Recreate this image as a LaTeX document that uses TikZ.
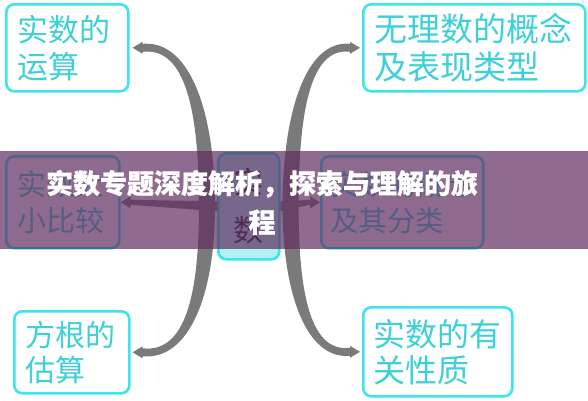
\documentclass[tikz,border=0pt]{standalone}
\usepackage{fontspec}
\setmainfont{Noto Sans CJK SC}[BoldFeatures={FakeBold=0.8}]
\usepackage{xcolor}
\usetikzlibrary{calc}
\definecolor{topicborder}{RGB}{56,230,236}
\definecolor{topictext}{RGB}{62,208,216}
\definecolor{hubfill}{RGB}{178,242,246}
\definecolor{hubtext}{RGB}{40,40,48}
\definecolor{linkgrey}{RGB}{122,122,122}
\definecolor{bandpurple}{RGB}{95,45,95}
% #1 arrow point, #2 bend point beside the hub, #3 x sign, #4 y sign
\newcommand\bigarc[4]{%
  \fill[linkgrey] let \p1=(#1), \p2=(#2), \p3=({\x1+10*(#3)},\y1) in
    ({\x3},{\y3+4*(#4)}) .. controls ({\x3+0.7*(\x2-\x3)+2*(#3)},{\y3+8*(#4)})
      and ({\x2+8*(#3)},{\y2+0.6*(\y3-\y2)}) .. ({\x2+8*(#3)},{\y2})
    -- ({\x2-8*(#3)},{\y2}) .. controls ({\x2-8*(#3)},{\y2+0.6*(\y3-\y2)})
      and ({\x3+0.7*(\x2-\x3)-2*(#3)},{\y3+1*(#4)}) .. ({\x3},{\y3-4*(#4)}) -- cycle
    ({\x3},{\y3+6}) -- (\x1,\y1) -- ({\x3},{\y3-6}) -- cycle;}
\newcommand\sidearrow[3]{%
  \fill[linkgrey] let \p1=(#1), \p2=(#2), \p3=({\x2+10*(#3)},\y2) in
    ({\x1},{\y1+5}) -- ({\x3},{\y3+2.5}) -- ({\x3},{\y3+6}) -- (\x2,\y2)
    -- ({\x3},{\y3-6}) -- ({\x3},{\y3-2.5}) -- ({\x1},{\y1-5}) -- cycle;}

\begin{document}
\begin{tikzpicture}[x=1pt, y=-1pt, topic/.style={draw=topicborder, line width=2.6pt, rounded corners=8pt, fill=white, text=topictext, align=left, inner xsep=11pt, inner ysep=0pt, anchor=north west}, hub/.style={draw=topicborder, line width=2.6pt, rounded corners=8pt, fill=hubfill, text=hubtext, align=center, inner sep=0pt, minimum width=61pt, minimum height=106pt, anchor=north west, font=\fontsize{30}{48}\selectfont}, caption/.style={text=white, align=center, font=\fontsize{27}{39}\selectfont\bfseries}]
\useasboundingbox (0,0) rectangle (588,400);
\node[topic, text width=100pt, minimum height=87pt, font=\fontsize{31}{37}\selectfont] (t1) at (5,3) {实数的\\运算};
\node[topic, text width=200pt, minimum height=87pt, font=\fontsize{33}{38}\selectfont] (t2) at (362,3) {无理数的概念\\及表现类型};
\node[topic, text width=91pt, minimum height=92pt, font=\fontsize{29}{36}\selectfont] (t3) at (5,155) {实数大\\小比较};
\node[topic, inner xsep=9pt, text width=144pt, minimum height=92pt, font=\fontsize{28.5}{36}\selectfont] (t4) at (320,155) {实数的概念\\及其分类};
\node[topic, text width=93pt, minimum height=82pt, font=\fontsize{30}{35}\selectfont] (t5) at (13,310) {方根的\\估算};
\node[topic, inner xsep=10pt, text width=129pt, minimum height=89pt, font=\fontsize{32}{36}\selectfont] (t6) at (362,306) {实数的有\\关性质};
\node[hub] (c) at (217,152) {实\\数};
\coordinate (lbend) at ($(c.west)+(-10,0)$);
\coordinate (rbend) at ($(c.east)+(10,0)$);
\bigarc{$(t1.east)+(3,0)$}{lbend}{1}{1}
\bigarc{$(t5.east)+(2,0)$}{lbend}{1}{-1}
\bigarc{$(t2.west)+(-2,0)$}{rbend}{-1}{1}
\bigarc{$(t6.west)+(-2,0)$}{rbend}{-1}{-1}
\sidearrow{c.west}{t3.east}{1}
\sidearrow{c.east}{t4.west}{-1}
\fill[bandpurple, opacity=0.7] (0,151) rectangle (588,249);
\node[caption] (title) at (262,202.5) {实数专题深度解析，探索与理解的旅\\程};
\end{tikzpicture}
\end{document}
